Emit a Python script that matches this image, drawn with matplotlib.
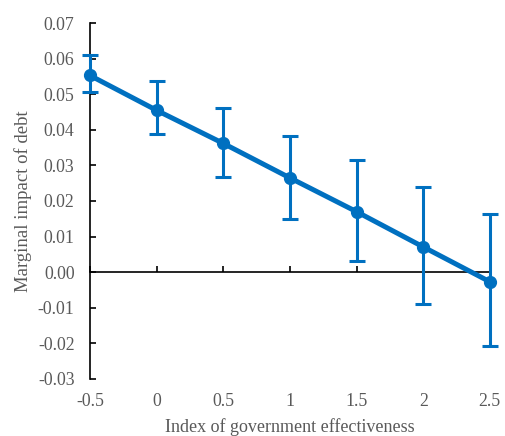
import matplotlib
matplotlib.use("Agg")
import matplotlib.pyplot as plt
import numpy as np

# government effectiveness index and marginal effect of debt
gov_eff = [-0.5, 0, 0.5, 1, 1.5, 2, 2.5]
impact = [0.0553, 0.0455, 0.0362, 0.0265, 0.0170, 0.0071, -0.0027]
ci_upper = [0.0610, 0.0537, 0.0460, 0.0384, 0.0314, 0.0239, 0.0164]
ci_lower = [0.0505, 0.0388, 0.0268, 0.0150, 0.0032, -0.0089, -0.0208]
y_ticks = [-0.03, -0.02, -0.01, 0.00, 0.01, 0.02, 0.03, 0.04, 0.05, 0.06, 0.07]
x_ticks = [-0.5, 0, 0.5, 1, 1.5, 2, 2.5]

blue = "#0070C0"
grey = "#595959"
plt.rcParams["font.family"] = ["Liberation Serif", "DejaVu Serif"]

fig = plt.figure(figsize=(5.05, 4.36), dpi=100)
ax = fig.add_axes([0.178, 0.131, 0.792, 0.816])

yerr = [np.array(impact) - np.array(ci_lower), np.array(ci_upper) - np.array(impact)]
ax.errorbar(gov_eff, impact, yerr=yerr, color=blue, lw=3.6, marker="o", ms=8.5,
            elinewidth=2.2, capsize=6, capthick=2.2, zorder=3, clip_on=False)

ax.set_xlim(-0.5, 2.5)
ax.set_ylim(-0.03, 0.07)
ax.set_yticks(y_ticks)
ax.set_yticklabels(["%.2f" % v for v in y_ticks])

# x axis line crosses at zero, labels stay at the bottom
ax.spines["bottom"].set_position(("data", 0))
ax.spines["top"].set_visible(False)
ax.spines["right"].set_visible(False)
ax.spines["left"].set_linewidth(1.2)
ax.spines["bottom"].set_linewidth(1.2)
ax.set_xticks(x_ticks)
ax.tick_params(axis="x", direction="in", length=4, width=1.2, labelbottom=False)
ax.tick_params(axis="y", direction="in", length=4, width=1.2, pad=11,
               labelsize=12.8, labelcolor=grey)

sec = ax.secondary_xaxis("bottom")
sec.spines["bottom"].set_visible(False)
sec.set_xticks(x_ticks)
sec.set_xticklabels(["-0.5", "0", "0.5", "1", "1.5", "2", "2.5"])
sec.tick_params(length=0, pad=10, labelsize=12.8, labelcolor=grey)
sec.set_xlabel("Index of government effectiveness", fontsize=13, color=grey, labelpad=6)

ax.set_ylabel("Marginal impact of debt", fontsize=13.5, color=grey, labelpad=4)

plt.savefig("out.png", dpi=100)
plt.close()
